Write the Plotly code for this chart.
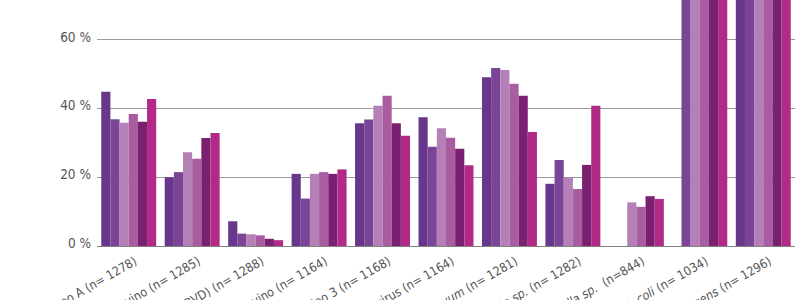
import plotly.graph_objects as go

categories = [
    "Rotavirus grupo A (n= 1278)",
    "Coronavirus bovino (n= 1285)",
    "Diarrea Viral Bovina (BVD) (n= 1288)",
    "Torovirus bovino (n= 1164)",
    "Parainfluenza tipo 3 (n= 1168)",
    "Herpesvirus (n= 1164)",
    "<i>Cryptosporidium parvum</i> (n= 1281)",
    "<i>Eimeria sp.</i> (n= 1282)",
    "<i>Salmonella sp.</i>  (n=844)",
    "<i>E. coli</i> (n= 1034)",
    "<i>Clostridium perfringens</i> (n= 1296)",
]

series_names = ["Serie 1", "Serie 2", "Serie 3", "Serie 4", "Serie 5", "Serie 6"]

s1 = [44.9, 20.0, 7.2, 21.0, 35.7, 37.5, 49.1, 18.1, None, None, 86.1]
s2 = [36.9, 21.5, 3.6, 13.8, 36.8, 28.9, 51.8, 25.0, None, 80.5, 84.7]
s3 = [35.9, 27.3, 3.4, 21.0, 40.8, 34.3, 51.2, 20.0, 12.7, 79.8, 87.3]
s4 = [38.4, 25.4, 3.1, 21.5, 43.7, 31.5, 47.2, 16.6, 11.4, 81.2, 85.0]
s5 = [36.2, 31.4, 2.1, 21.0, 35.7, 28.3, 43.7, 23.6, 14.5, 78.9, 84.2]
s6 = [42.8, 32.9, 1.7, 22.3, 32.1, 23.5, 33.2, 40.8, 13.7, 83.0, 88.5]

y_tickvals = [0, 20, 40, 60]
y_ticktext = ["0 %", "20 %", "40 %", "60 %"]

colors = ["#66378B", "#7B4597", "#B580B7", "#A95C9F", "#7A2070", "#B22A87"]

fig = go.Figure()
for name, vals, col in zip(series_names, [s1, s2, s3, s4, s5, s6], colors):
    fig.add_trace(go.Bar(x=categories, y=vals, name=name,
                         marker=dict(color=col, line=dict(width=0))))

font_family = "DejaVu Sans Condensed, Liberation Sans Narrow, sans-serif"

fig.update_layout(
    width=800, height=300,
    margin=dict(l=97, r=5, t=0, b=54, autoexpand=False),
    paper_bgcolor="white", plot_bgcolor="white",
    barmode="group", bargap=0.134, bargroupgap=0,
    showlegend=False,
    font=dict(family=font_family, color="#555555", size=13),
)
fig.update_xaxes(
    tickangle=-30, tickfont=dict(size=12.5, color="#555555", family=font_family),
    showgrid=False, showline=False, ticks="", automargin=False,
    ticklabelstandoff=5, ticklabelshift=6,
)
fig.update_yaxes(
    range=[0, 71.6], tickvals=y_tickvals, ticktext=y_ticktext,
    showgrid=True, gridcolor="#9a9a9a", gridwidth=1,
    zeroline=True, zerolinecolor="#808080", zerolinewidth=1,
    showline=False, ticks="", automargin=False, ticklabelstandoff=5,
    ticklabelshift=-3,
    tickfont=dict(size=13.5, color="#555555", family=font_family),
)

fig.write_html("out.html")
